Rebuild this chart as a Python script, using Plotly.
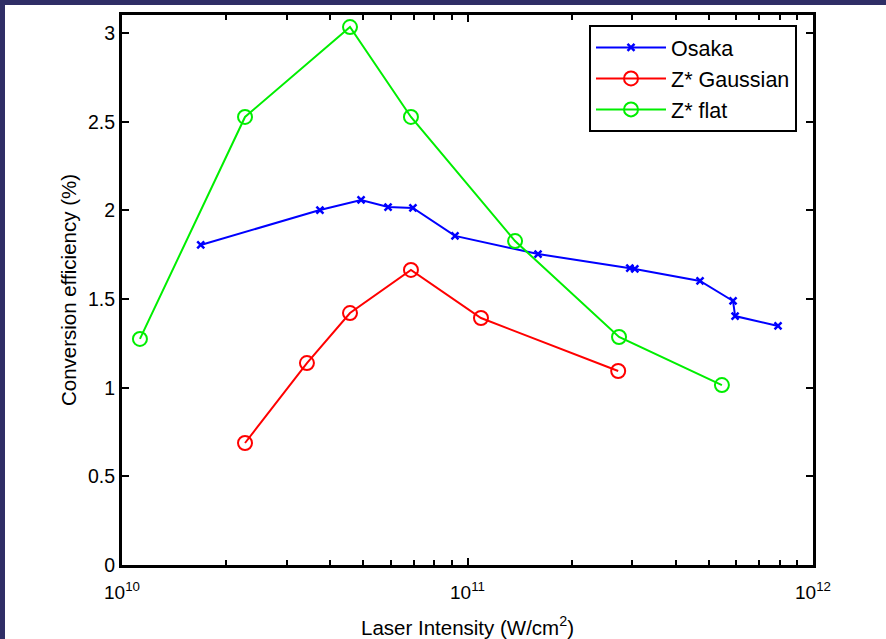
import plotly.graph_objects as go

# ---- data ----
osaka_x = [1.69e10, 3.74e10, 4.92e10, 5.89e10, 6.95e10, 9.2e10, 1.6e11,
           2.95e11, 3.05e11, 4.71e11, 5.87e11, 5.95e11, 7.92e11]
osaka_y = [1.805, 2.002, 2.059, 2.019, 2.014, 1.856, 1.754,
           1.675, 1.670, 1.602, 1.489, 1.404, 1.348]

gauss_x = [2.27e10, 3.43e10, 4.57e10, 6.86e10, 1.094e11, 2.73e11]
gauss_y = [0.688, 1.139, 1.421, 1.664, 1.393, 1.094]

flat_x = [1.127e10, 2.27e10, 4.57e10, 6.86e10, 1.373e11, 2.745e11, 5.45e11]
flat_y = [1.275, 2.527, 3.034, 2.527, 1.827, 1.286, 1.015]

x_tick_vals = [1e10, 1e11, 1e12]
x_tick_text = ["10<sup>10</sup>", "10<sup>11</sup>", "10<sup>12</sup>"]
y_tick_vals = [0, 0.5, 1, 1.5, 2, 2.5, 3]
y_tick_text = ["0", "0.5", "1", "1.5", "2", "2.5", "3"]
minor_vals = [m * 10 ** e for e in (10, 11) for m in range(2, 10)]

FONT = "Liberation Sans, Arial, sans-serif"

fig = go.Figure()
fig.add_trace(go.Scatter(
    x=osaka_x, y=osaka_y, mode="lines+markers", name="Osaka",
    line=dict(color="#0000FF", width=2),
    marker=dict(symbol="x-thin-open", size=7, line=dict(color="#0000FF", width=2.5), color="#0000FF")))
fig.add_trace(go.Scatter(
    x=gauss_x, y=gauss_y, mode="lines+markers", name="Z* Gaussian",
    line=dict(color="#FF0000", width=2),
    marker=dict(symbol="circle-open", size=14, line=dict(color="#FF0000", width=2))))
fig.add_trace(go.Scatter(
    x=flat_x, y=flat_y, mode="lines+markers", name="Z* flat",
    line=dict(color="#00EE00", width=2),
    marker=dict(symbol="circle-open", size=14, line=dict(color="#00EE00", width=2))))

W, H = 886, 639
L, R, T, B = 122, 73, 15, 74
pw, ph = W - L - R, H - T - B
frame = "#2F2E66"

fig.update_layout(
    width=W, height=H,
    margin=dict(l=L, r=R, t=T, b=B, pad=0),
    paper_bgcolor="white", plot_bgcolor="white",
    font=dict(family=FONT, size=19, color="black"),
    showlegend=True,
    legend=dict(x=(589 - L) / pw, y=1 - (25 - T) / ph, xanchor="left", yanchor="top",
                bordercolor="black", borderwidth=2, bgcolor="white",
                font=dict(size=21.5), tracegroupgap=0, itemwidth=70),
    xaxis=dict(type="log", range=[10, 12], tickvals=x_tick_vals, ticktext=x_tick_text,
               ticks="inside", ticklen=7, tickwidth=2, tickcolor="black",
               showline=True, linecolor="black", linewidth=3, mirror="ticks",
               showgrid=False, zeroline=False, ticklabelstandoff=8, automargin=False,
               minor=dict(tickvals=minor_vals, ticks="inside", ticklen=5, tickwidth=2,
                          tickcolor="black", showgrid=False),
               title=dict(text="Laser Intensity (W/cm<sup>2</sup>)", standoff=24,
                          font=dict(size=20.5)),
               tickfont=dict(size=19)),
    yaxis=dict(range=[0, 3.102], tickvals=y_tick_vals, ticktext=y_tick_text,
               ticks="inside", ticklen=7, tickwidth=2, tickcolor="black",
               showline=True, linecolor="black", linewidth=3, mirror="ticks",
               showgrid=False, zeroline=False, automargin=False,
               title=dict(text="Conversion efficiency (%)", standoff=6,
                          font=dict(size=20.5)),
               tickfont=dict(size=19.5)),
    shapes=[
        dict(type="rect", xref="paper", yref="paper", layer="below",
             x0=-L / pw - 0.01, x1=(5 - L) / pw, y0=-B / ph - 0.01, y1=1 + T / ph + 0.01,
             fillcolor=frame, line=dict(width=0)),
        dict(type="rect", xref="paper", yref="paper", layer="below",
             x0=-L / pw - 0.01, x1=1 + R / pw + 0.01, y0=1 + (T - 5) / ph, y1=1 + T / ph + 0.01,
             fillcolor=frame, line=dict(width=0)),
    ],
)

fig.write_html("out.html", config={"displayModeBar": False},
               post_script="document.body.style.margin='0';")
